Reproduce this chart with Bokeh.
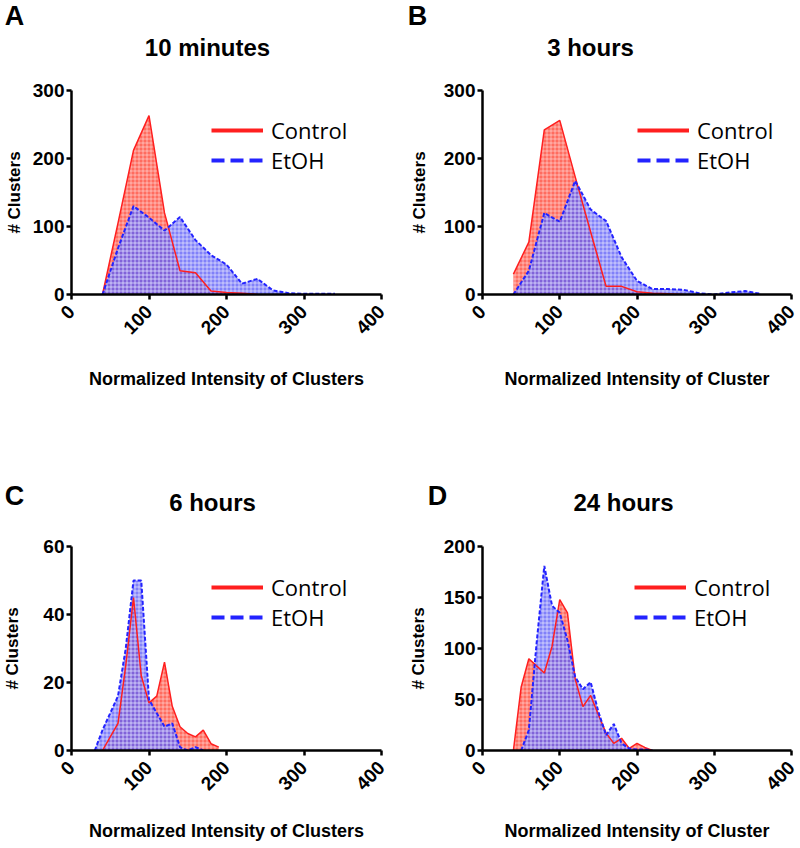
from bokeh.plotting import figure
from bokeh.models import Range1d, FixedTicker, Legend, LegendItem
from bokeh.core.properties import value
from bokeh.layouts import column, row
from bokeh.embed import file_html
from bokeh.resources import INLINE
import math

# ---------------- data ----------------
x_ticks = [0, 100, 200, 300, 400]

a_ctrl_x = [40, 60, 80, 100, 120, 140, 160, 180, 200, 220, 240]
a_ctrl_y = [0, 105, 212, 263, 120, 35, 32, 5, 3, 2, 0]
a_etoh_x = [40, 60, 80, 100, 120, 140, 160, 180, 200, 220, 240, 260, 280, 300, 320, 340]
a_etoh_y = [0, 68, 130, 113, 94, 114, 80, 58, 44, 16, 23, 6, 2, 1, 1, 1]
a_yticks = [0, 100, 200, 300]

b_ctrl_x = [40, 60, 80, 100, 120, 140, 160, 180, 200, 220, 240, 260]
b_ctrl_y = [30, 77, 242, 256, 173, 92, 12, 12, 4, 2, 1, 0]
b_etoh_x = [40, 60, 80, 100, 120, 140, 160, 180, 200, 220, 240, 260, 280, 300, 320, 340, 360]
b_etoh_y = [0, 35, 120, 107, 167, 125, 108, 55, 20, 8, 8, 7, 2, 0, 3, 5, 1]
b_yticks = [0, 100, 200, 300]

c_ctrl_x = [40, 50, 60, 70, 80, 90, 100, 110, 120, 130, 140, 150, 160, 170, 180, 190]
c_ctrl_y = [0, 4, 8, 25, 45, 22, 14, 16, 26, 13, 7, 5, 4, 6, 2, 1]
c_etoh_x = [30, 40, 50, 60, 70, 80, 90, 100, 110, 120, 130, 140, 150, 160, 170]
c_etoh_y = [0, 6, 11, 16, 30, 50, 50, 15, 11, 7, 8, 1, 0, 1, 0]
c_yticks = [0, 20, 40, 60]

d_ctrl_x = [40, 50, 60, 70, 80, 90, 100, 110, 120, 130, 140, 150, 160, 170, 180, 190, 200, 210, 220]
d_ctrl_y = [0, 62, 90, 83, 76, 102, 148, 135, 70, 43, 54, 35, 17, 7, 12, 2, 7, 3, 0]
d_etoh_x = [50, 60, 70, 80, 90, 100, 110, 120, 130, 140, 150, 160, 170, 180, 190, 200, 210, 220]
d_etoh_y = [0, 20, 105, 181, 142, 135, 108, 72, 60, 67, 38, 15, 26, 7, 2, 1, 1, 0]
d_yticks = [0, 50, 100, 150, 200]

titles = ["10 minutes", "3 hours", "6 hours", "24 hours"]
letters = ["A", "B", "C", "D"]
xlabels = ["Normalized Intensity of Clusters", "Normalized Intensity of Cluster",
           "Normalized Intensity of Clusters", "Normalized Intensity of Cluster"]
ylabel = "# Clusters"
series_names = ["Control", "EtOH"]

RED = "#ff1f1f"
RED_FILL = "#ff5c4e"
BLUE = "#2323ff"
BLUE_FILL = "#6262f8"
FONT = "Liberation Sans"
NAN = float("nan")


def make_header(letter, title, fig_left, fig_top, fig_w, fig_h, letter_pos, title_pos):
    """Strip above a panel that carries the panel letter and the panel title."""
    h = figure(width=fig_w, height=fig_h, output_backend="svg", toolbar_location=None,
               x_range=Range1d(0, fig_w), y_range=Range1d(0, fig_h),
               x_axis_location=None, y_axis_location=None,
               min_border=0, min_border_left=0, min_border_right=0,
               min_border_top=0, min_border_bottom=0)
    h.outline_line_color = None
    h.xgrid.visible = False
    h.ygrid.visible = False
    gx, gy = letter_pos
    h.text(x=[gx - fig_left], y=[fig_top + fig_h - gy], text=[letter],
           text_font=value(FONT), text_font_style="bold", text_font_size="27px",
           text_align="center", text_baseline="middle", text_color="black")
    tx, ty = title_pos
    h.text(x=[tx - fig_left], y=[fig_top + fig_h - ty], text=[title],
           text_font=value(FONT), text_font_style="bold", text_font_size="24px",
           text_align="center", text_baseline="middle", text_color="black")
    return h


def make_panel(xlabel, ctrl_x, ctrl_y, etoh_x, etoh_y, yticks,
               fig_left, fig_top, fig_w, fig_h, fr_left, fr_right, fr_top, fr_bottom,
               legend_pos, ylab_standoff, xlab_standoff):
    p = figure(width=fig_w, height=fig_h, output_backend="svg", toolbar_location=None,
               x_range=Range1d(0, 400), y_range=Range1d(0, yticks[-1]),
               min_border_left=fr_left - fig_left, min_border_right=fig_left + fig_w - fr_right,
               min_border_top=fr_top - fig_top, min_border_bottom=fig_top + fig_h - fr_bottom)
    p.outline_line_color = None
    p.xgrid.visible = False
    p.ygrid.visible = False

    # filled histograms
    p.varea(x=ctrl_x, y1=0, y2=ctrl_y, fill_color=RED_FILL, fill_alpha=0.9,
            hatch_pattern="+", hatch_color="white", hatch_alpha=0.45, hatch_scale=4, hatch_weight=1)
    p.varea(x=etoh_x, y1=0, y2=etoh_y, fill_color=BLUE_FILL, fill_alpha=0.8,
            hatch_pattern="+", hatch_color="white", hatch_alpha=0.55, hatch_scale=4, hatch_weight=1)
    p.line(ctrl_x, ctrl_y, line_color=RED, line_width=1.5)
    p.line(etoh_x, etoh_y, line_color=BLUE, line_width=2, line_dash="4 2")

    # legend with thick sample lines
    r1 = p.line([0], [NAN], line_color=RED, line_width=4)
    r2 = p.line([0], [NAN], line_color=BLUE, line_width=4, line_dash="13 6")
    lx, ly = legend_pos
    legend = Legend(items=[LegendItem(label=series_names[0], renderers=[r1]),
                           LegendItem(label=series_names[1], renderers=[r2])],
                    location=(lx - fr_left - 1, fr_bottom - ly - 45),
                    padding=0, margin=0, spacing=-2, glyph_width=52, glyph_height=20,
                    label_height=20, label_standoff=8,
                    label_text_font="Open Sans", label_text_font_size="22px",
                    label_text_color="black",
                    border_line_color=None, background_fill_alpha=0)
    p.add_layout(legend)

    # axes
    for ax in (p.xaxis[0], p.yaxis[0]):
        ax.axis_line_width = 2.5
        ax.axis_line_color = "black"
        ax.major_tick_line_width = 2.5
        ax.major_tick_line_color = "black"
        ax.major_tick_out = 5
        ax.major_tick_in = 0
        ax.minor_tick_line_color = None
        ax.major_label_text_font = FONT
        ax.major_label_text_font_style = "bold"
        ax.major_label_text_font_size = "19px"
        ax.major_label_text_color = "black"
        ax.axis_label_text_font = FONT
        ax.axis_label_text_font_style = "bold"
        ax.axis_label_text_color = "black"

    p.xaxis.ticker = FixedTicker(ticks=x_ticks)
    p.yaxis.ticker = FixedTicker(ticks=yticks)
    p.xaxis.major_label_orientation = math.pi / 4
    p.xaxis.major_label_standoff = 9
    p.yaxis.major_label_standoff = 2
    p.xaxis.axis_label = xlabel
    p.xaxis.axis_label_text_font_size = "18px"
    p.xaxis.axis_label_standoff = xlab_standoff
    p.yaxis.axis_label = ylabel
    p.yaxis.axis_label_text_font_size = "17px"
    p.yaxis.axis_label_standoff = ylab_standoff
    return p


# page coordinates (the page has no margin): row 1 header 0..80, panels 80..455;
# row 2 header 455..536, panels 536..846
ha = make_header(letters[0], titles[0], 0, 0, 400, 80, (14, 15), (207, 47))
hb = make_header(letters[1], titles[1], 400, 0, 400, 80, (417, 15), (590, 47))
hc = make_header(letters[2], titles[2], 0, 455, 400, 81, (14, 495), (212, 502))
hd = make_header(letters[3], titles[3], 400, 455, 400, 81, (437, 495), (623, 502))

pa = make_panel(xlabels[0], a_ctrl_x, a_ctrl_y, a_etoh_x, a_etoh_y, a_yticks,
                0, 80, 400, 375, 71, 381, 90, 294, (212, 130), 6, 26)
pb = make_panel(xlabels[1], b_ctrl_x, b_ctrl_y, b_etoh_x, b_etoh_y, b_yticks,
                400, 80, 400, 375, 482, 791, 90, 294, (638, 130), 12, 26)
pc = make_panel(xlabels[2], c_ctrl_x, c_ctrl_y, c_etoh_x, c_etoh_y, c_yticks,
                0, 536, 400, 310, 71, 381, 546, 750, (212, 587), 18, 22)
pd = make_panel(xlabels[3], d_ctrl_x, d_ctrl_y, d_etoh_x, d_etoh_y, d_yticks,
                400, 536, 400, 310, 482, 791, 546, 750, (635, 587), 13, 22)

layout = column(row(ha, hb), row(pa, pb), row(hc, hd), row(pc, pd))
open("out.html", "w").write(file_html(layout, INLINE))
